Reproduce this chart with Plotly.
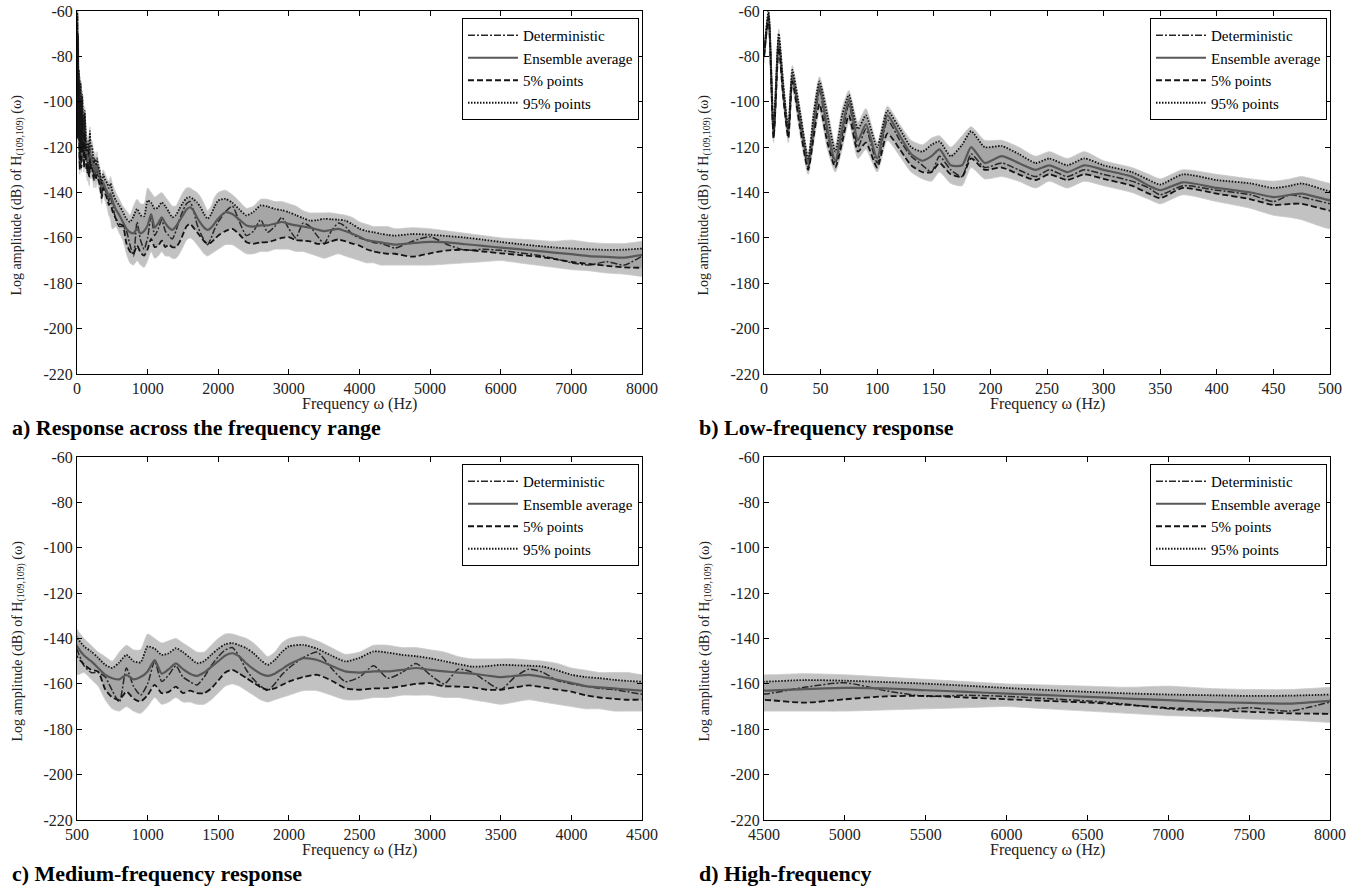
import plotly.graph_objects as go

# ---------------- data ----------------
FREQ = [0, 4, 8.5, 13, 17, 21.5, 25, 32, 39, 44, 49, 56, 63, 69, 75, 83, 90, 100, 109, 120,
        130, 140, 148, 155, 165, 175, 183, 195, 210, 225, 240, 252, 268, 283, 300, 325, 340, 350,
        370, 400, 430, 450, 465, 475, 500,
        550, 600, 650, 700, 750, 800, 850, 900, 950, 1000, 1050, 1100, 1150, 1200, 1250, 1300,
        1350, 1400, 1450, 1500, 1550, 1600, 1650, 1700, 1750, 1800, 1850, 1900, 1950, 2000,
        2100, 2200, 2300, 2400, 2500, 2600, 2700, 2800, 2900, 3000, 3100, 3200, 3300, 3400,
        3500, 3600, 3700, 3800, 3900, 4000, 4100, 4200, 4300, 4400, 4500,
        4750, 5000, 5250, 5500, 5750, 6000, 6250, 6500, 6750, 7000, 7250, 7500, 7750, 8000]

ENSEMBLE = [-80, -61, -114, -72, -95, -114, -88, -108, -127, -110, -93, -112, -126, -112, -99,
            -117, -110, -125, -106, -115, -123, -126, -124, -121, -128, -128, -120, -127, -124,
            -127, -130, -128, -131, -128, -130, -133, -137, -139, -135.5, -138, -140, -142, -141,
            -140.5, -143.5,
            -147.5, -150, -153, -156, -157.5, -158, -156, -158, -157, -154.5, -149.5, -155.5,
            -153.5, -151, -153.5, -155.5, -156.5, -155, -152.5, -150, -147.5, -146.5, -148, -151,
            -153.5, -155.5, -156.5, -155.5, -153.5, -151.5,
            -148.7, -149.5, -152, -154.5, -155, -154.5, -154.5, -153.8, -153, -153.8, -154.5,
            -155, -155.5, -156.3, -157, -156.5, -156, -157, -158.2, -159.5, -161, -161.5, -162,
            -162.5, -163,
            -162.3, -161.8, -162, -162.8, -163.5, -164.3, -165, -165.7, -166.5, -167.2, -168,
            -168.4, -168.7, -167.5]

P5 = [-80, -63, -116, -76, -98, -116, -91, -112, -130, -115, -101, -118, -129, -118, -106,
      -122, -118, -129, -114, -121, -128, -131, -131, -127, -132, -133, -125, -130, -129, -132,
      -134.5, -132, -134.5, -132, -134, -137, -140.5, -142.5, -138, -140.5, -143, -145.5, -145,
      -145, -148,
      -151.5, -153.8, -154.6, -162.5, -166, -167, -163.4, -166.5, -167.8, -165, -160.4, -164.1,
      -163.5, -161.2, -164.1, -163, -164.1, -164.1, -162, -158.5, -155, -153.8, -155.5, -157.5,
      -159.5, -161.5, -162.6, -162, -160.5, -159,
      -157, -156, -158.5, -161.9, -162.6, -162, -161.9, -161, -160, -159.7, -161, -161.2,
      -161.5, -162.6, -162.6, -161.5, -160.7, -161.5, -162.5, -163.4, -165, -166, -166.6,
      -167, -167,
      -168.3, -166.8, -165.5, -165.3, -166, -166.8, -167.5, -168.2, -169.3, -170.6, -171.5,
      -172.3, -173, -173.2]

P95 = [-79, -60, -112, -70, -92, -112, -86, -105, -125, -105, -91, -106, -122, -106, -97,
       -112, -106, -120, -104, -112, -120, -122, -119, -117.5, -124, -119, -113, -120, -119.5,
       -123, -127, -125, -128, -125, -128, -131, -134.5, -136.5, -132, -134.5, -136, -138, -137,
       -136, -139.5,
       -143.5, -145.7, -148.5, -151.6, -153, -150.5, -147.2, -150, -150.5, -143.5, -144.5,
       -147.2, -146.5, -144.3, -146, -148.5, -150.9, -150, -147.2, -144.5, -142.5, -142, -143,
       -144.3, -146.5, -149.5, -151.6, -149.5, -146, -143.5,
       -142.8, -144.5, -147.5, -150.1, -148.5, -145.7, -146.2, -147.2, -147.8, -148.7, -150,
       -151.3, -152.4, -152.2, -151.6, -151.8, -152, -152.4, -154, -156, -157, -157.5, -158.2,
       -158.7, -159,
       -158.3, -158.6, -159.2, -159.9, -160.8, -161.8, -162.7, -163.5, -164.2, -164.7, -165,
       -165.3, -165.2, -164.7]

DETERMINISTIC = [-80, -62, -116, -73, -96, -115, -89, -110, -129, -112, -95, -114, -127, -115,
                 -101, -120, -112, -127, -108, -117, -124, -128, -131, -124, -130, -133, -123,
                 -129, -127, -130, -133, -130, -133, -130, -132, -135, -138, -141, -137, -139,
                 -141, -144, -141, -142, -145,
                 -152, -155, -155, -157, -163, -168, -153, -161, -165, -160, -150, -159, -156,
                 -152, -157, -159, -160.5, -157, -152, -148, -145, -144, -148, -154, -158, -161,
                 -163, -160, -156, -153,
                 -148.5, -146, -153, -159, -157, -152, -157.5, -155, -151, -156, -160, -153.5,
                 -155, -159, -162.5, -157, -153.5, -155, -158.5, -160, -161, -162, -162.5,
                 -163.5, -164.5,
                 -161.5, -159.5, -163, -165.5, -165, -165.5, -166.5, -167.5, -169, -171, -172,
                 -170.5, -172, -168]

# envelope of the grey Monte-Carlo sample curves
SAMPLES_HI = [-77, -59, -110, -68, -90, -110, -84, -103, -123, -102, -89, -103, -119, -103, -95,
              -109, -103, -118, -102, -110, -117, -119, -116, -115, -120, -115, -111, -117, -117,
              -120, -124, -122, -125, -122, -126, -129, -132, -134, -130, -132, -134, -135, -134,
              -133, -136,
              -140, -143, -146, -148, -150, -146, -143, -145, -145, -138, -140, -142, -141, -140,
              -142, -144, -146, -146, -143, -140, -138, -138, -139, -140, -142, -145, -148, -146,
              -142, -140,
              -139, -141, -144, -147, -146, -143, -143, -144, -144, -145, -146, -148, -149, -149,
              -149, -149, -149.5, -150, -151, -153, -154, -155, -155, -155, -156,
              -155.5, -156, -157, -158, -159, -160, -160.5, -161, -161.5, -161, -162, -162.5,
              -162.5, -161.5]

SAMPLES_LO = [-83, -66, -118, -79, -101, -118, -94, -115, -132, -118, -104, -121, -131, -121,
              -109, -125, -121, -131, -117, -124, -131, -134, -135, -131, -136, -137, -129, -134,
              -133, -135, -138, -135, -138, -135, -137, -140, -143, -145, -141, -144, -147, -150,
              -151, -152, -156,
              -155, -158, -161, -167, -171, -172, -170, -172, -173, -170, -166, -169, -168, -166,
              -168, -168, -169, -169, -167, -164, -161, -160, -161, -163, -165, -167, -168, -167,
              -166, -165,
              -163, -163, -165, -167, -167, -166, -166, -165, -165, -165, -166, -166, -167, -168,
              -169, -168, -167, -168, -169, -170, -171, -171, -172, -172, -172,
              -172, -172, -171.5, -171, -170.5, -170, -171, -172, -173, -174, -174.5, -175.5,
              -176, -177]

Y_TICKS = [-220, -200, -180, -160, -140, -120, -100, -80, -60]
X_TICKS_A = [0, 1000, 2000, 3000, 4000, 5000, 6000, 7000, 8000]
X_TICKS_B = [0, 50, 100, 150, 200, 250, 300, 350, 400, 450, 500]
X_TICKS_C = [500, 1000, 1500, 2000, 2500, 3000, 3500, 4000, 4500]
X_TICKS_D = [4500, 5000, 5500, 6000, 6500, 7000, 7500, 8000]

CAPTIONS = ["a) Response across the frequency range", "b) Low-frequency response",
            "c) Medium-frequency response", "d) High-frequency"]
SERIES_NAMES = ["Deterministic", "Ensemble average", "5% points", "95% points"]

# ---------------- layout geometry ----------------
W, H = 1360, 889
SERIF = "Liberation Serif"
# pixel boxes of the four plot areas: (left, right, top, bottom)
BOXES = [(77, 642, 11, 374), (764, 1330, 11, 374), (77, 642, 457, 820), (764, 1330, 457, 820)]
X_TICK_SETS = [X_TICKS_A, X_TICKS_B, X_TICKS_C, X_TICKS_D]


def px_x(p):
    return p / W


def px_y(p):
    return 1 - p / H


fig = go.Figure()

for i, (box, xt) in enumerate(zip(BOXES, X_TICK_SETS)):
    n = i + 1
    xa = "x" if n == 1 else f"x{n}"
    ya = "y" if n == 1 else f"y{n}"
    lg = "legend" if n == 1 else f"legend{n}"

    # grey sample envelope
    fig.add_trace(go.Scatter(x=FREQ, y=SAMPLES_HI, xaxis=xa, yaxis=ya, mode="lines",
                             line=dict(color="rgb(202,202,202)", width=0.8, shape="spline",
                                       smoothing=0.6),
                             showlegend=False, hoverinfo="skip"))
    fig.add_trace(go.Scatter(x=FREQ, y=SAMPLES_LO, xaxis=xa, yaxis=ya, mode="lines",
                             line=dict(color="rgb(202,202,202)", width=0.8, shape="spline",
                                       smoothing=0.6),
                             fill="tonexty", fillcolor="rgb(194,194,194)",
                             showlegend=False, hoverinfo="skip"))
    # denser core between 5% and 95%
    fig.add_trace(go.Scatter(x=FREQ, y=P95, xaxis=xa, yaxis=ya, mode="lines",
                             line=dict(width=0, shape="spline", smoothing=0.6),
                             showlegend=False, hoverinfo="skip"))
    fig.add_trace(go.Scatter(x=FREQ, y=P5, xaxis=xa, yaxis=ya, mode="lines",
                             line=dict(width=0, shape="spline", smoothing=0.6),
                             fill="tonexty", fillcolor="rgb(166,166,166)",
                             showlegend=False, hoverinfo="skip"))

    styles = [
        (DETERMINISTIC, dict(color="rgb(40,40,40)", width=1.5, dash="7px,2px,2px,2px")),
        (ENSEMBLE, dict(color="rgb(88,88,88)", width=2.2, dash="solid")),
        (P5, dict(color="rgb(20,20,20)", width=1.8, dash="6px,3px")),
        (P95, dict(color="rgb(20,20,20)", width=1.8, dash="1.5px,1.5px")),
    ]
    for name, (vals, st) in zip(SERIES_NAMES, styles):
        fig.add_trace(go.Scatter(x=FREQ, y=vals, xaxis=xa, yaxis=ya, mode="lines", name=name,
                                 line=dict(shape="spline", smoothing=0.6, **st),
                                 legend=lg))

    l, r, t, b = box
    axis_common = dict(showline=True, linecolor="black", linewidth=1, mirror="ticks",
                       ticks="inside", ticklen=5, tickcolor="black", showgrid=False,
                       zeroline=False, automargin=False, ticklabeloverflow="allow",
                       tickfont=dict(family=SERIF, size=16, color="#222"))
    fig.layout[("xaxis" if n == 1 else f"xaxis{n}")] = dict(
        domain=[px_x(l), px_x(r)], anchor=ya, range=[xt[0], xt[-1]],
        tickmode="array", tickvals=xt, ticktext=[str(v) for v in xt], **axis_common)
    fig.layout[("yaxis" if n == 1 else f"yaxis{n}")] = dict(
        domain=[px_y(b), px_y(t)], anchor=xa, range=[-220, -60],
        tickmode="array", tickvals=Y_TICKS, ticktext=[str(v) for v in Y_TICKS], **axis_common)

    fig.layout[lg] = dict(x=px_x(r - 3), y=px_y(t + 7), xanchor="right", yanchor="top",
                          bgcolor="white", bordercolor="black", borderwidth=1,
                          font=dict(family=SERIF, size=15, color="black"),
                          itemwidth=50, tracegroupgap=0, traceorder="normal")

    # axis titles and captions
    fig.add_annotation(x=px_x((l + r) / 2), y=px_y(b + 30), xref="paper", yref="paper",
                       xanchor="center", yanchor="middle",
                       text="Frequency ω (Hz)", showarrow=False,
                       font=dict(family=SERIF, size=16, color="#222"))
    fig.add_annotation(x=px_x(l - 59), y=px_y((t + b) / 2 + 3), xref="paper", yref="paper",
                       xanchor="center", yanchor="middle",
                       text="Log amplitude (dB) of H<sub>(109,109)</sub> (ω)", textangle=-90,
                       showarrow=False, font=dict(family=SERIF, size=14, color="#222"))
    fig.add_annotation(x=px_x(l - 67), y=px_y(b + 53), xref="paper", yref="paper",
                       xanchor="left", yanchor="middle",
                       text="<b>" + CAPTIONS[i] + "</b>", showarrow=False,
                       font=dict(family=SERIF, size=22, color="black"))

fig.update_layout(width=W, height=H, margin=dict(l=0, r=0, t=0, b=0, autoexpand=False),
                  paper_bgcolor="white", plot_bgcolor="white", showlegend=True)

# remove the default 8px page margin so the figure fills the window exactly
fig.write_html("out.html", config={"displayModeBar": False},
               post_script="document.body.style.margin='0';")
